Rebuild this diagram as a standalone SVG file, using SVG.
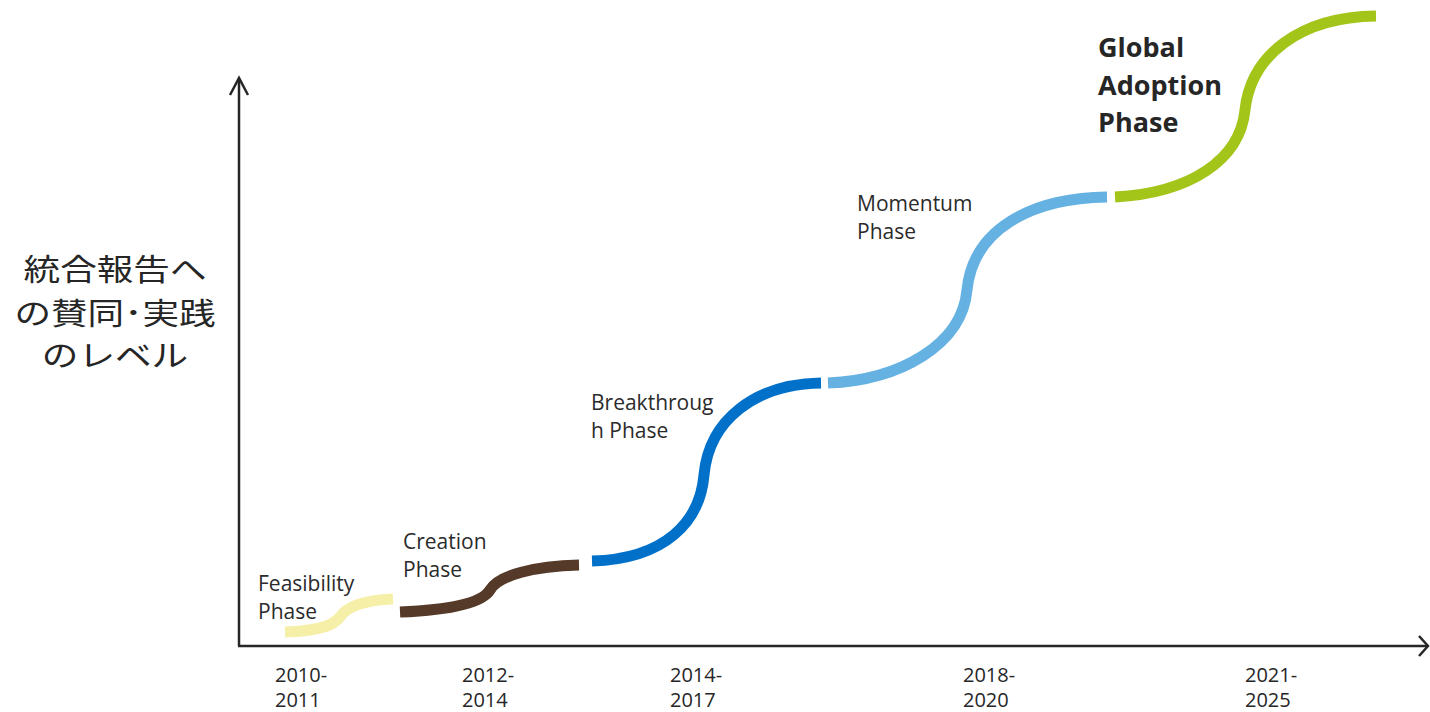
<svg xmlns="http://www.w3.org/2000/svg" width="1430" height="712" viewBox="0 0 1430 712">
  <defs>
    <style>
      .axis { fill: none; stroke: #262626; stroke-width: 2.5; }
      .curve { fill: none; stroke-width: 11; stroke-linecap: butt; }
      .lbl { font-family: "Open Sans", "Liberation Sans", sans-serif; font-size: 21px; fill: #2b2b2b; }
      .bold { font-family: "Open Sans", "Liberation Sans", sans-serif; font-size: 27px; font-weight: bold; fill: #262626; }
      .yr { font-family: "Open Sans", "Liberation Sans", sans-serif; font-size: 20px; fill: #262626; }
      .jp { font-family: "Noto Sans CJK JP", "Noto Sans CJK SC", sans-serif; font-size: 30px; fill: #262626; text-anchor: middle; }
    </style>
  </defs>
  <rect width="1430" height="712" fill="#ffffff"/>

  <g id="axes">
    <line class="axis" x1="239" y1="78" x2="239" y2="646"/>
    <polyline class="axis" points="230,95 239,78 248,95"/>
    <line class="axis" x1="238" y1="646" x2="1427" y2="646"/>
    <polyline class="axis" points="1419,636 1428,646 1419,656"/>
  </g>

  <g id="y-label" transform="scale(1.22,1)">
    <text class="jp" x="94.3" y="280">統合報告へ</text>
    <text class="jp" x="94.3" y="324">の賛同･実践</text>
    <text class="jp" x="94.3" y="366">のレベル</text>
  </g>

  <g id="connectors">
    <path id="feasibility-curve" class="curve" stroke="#F6EFA8" d="M285,632 C318,631 333,626 340,617 C348,605 368,600 393,599"/>
    <path id="creation-curve" class="curve" stroke="#553A2A" d="M400,612 C450,610 482,603 490,590 C499,575 535,566 579,565"/>
    <path id="breakthrough-curve" class="curve" stroke="#0070C9" d="M592,561 C665,559 700,522 704,475 C709,420 755,384 821,383"/>
    <path id="momentum-curve" class="curve" stroke="#65B1E2" d="M828,383 C900,380 962,345 967,290 C973,230 1030,198 1107,197"/>
    <path id="global-curve" class="curve" stroke="#A3C51A" d="M1115,197 C1190,193 1240,160 1245,110 C1251,55 1300,17 1376,16"/>
  </g>

  <g id="feasibility">
    <text class="lbl" x="258" y="591">Feasibility</text>
    <text class="lbl" x="258" y="619">Phase</text>
  </g>
  <g id="creation">
    <text class="lbl" x="403" y="549">Creation</text>
    <text class="lbl" x="403" y="577">Phase</text>
  </g>
  <g id="breakthrough">
    <text class="lbl" x="591" y="410">Breakthroug</text>
    <text class="lbl" x="591" y="438">h Phase</text>
  </g>
  <g id="momentum">
    <text class="lbl" x="857" y="211">Momentum</text>
    <text class="lbl" x="857" y="239">Phase</text>
  </g>
  <g id="global">
    <text class="bold" x="1098" y="57">Global</text>
    <text class="bold" x="1098" y="95">Adoption</text>
    <text class="bold" x="1098" y="132">Phase</text>
  </g>

  <g id="years">
    <text class="yr" x="275" y="682">2010-</text>
    <text class="yr" x="275" y="707">2011</text>
    <text class="yr" x="462" y="682">2012-</text>
    <text class="yr" x="462" y="707">2014</text>
    <text class="yr" x="670" y="682">2014-</text>
    <text class="yr" x="670" y="707">2017</text>
    <text class="yr" x="963" y="682">2018-</text>
    <text class="yr" x="963" y="707">2020</text>
    <text class="yr" x="1245" y="682">2021-</text>
    <text class="yr" x="1245" y="707">2025</text>
  </g>
</svg>
